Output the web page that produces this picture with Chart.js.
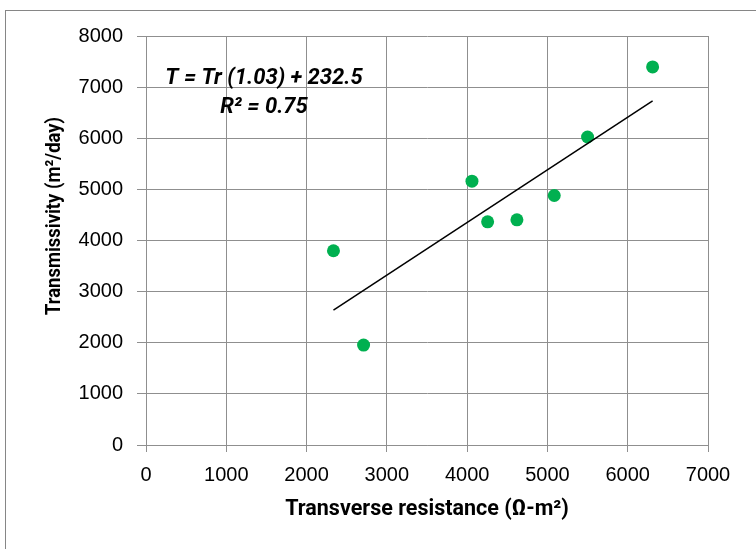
<!DOCTYPE html>
<html>
<head>
<meta charset="utf-8">
<script src="https://cdn.jsdelivr.net/npm/chart.js@4/dist/chart.umd.min.js"></script>
<style>
  html, body { margin: 0; padding: 0; background: #fff; }
  .wrap { position: relative; width: 756px; height: 549px; overflow: hidden; }
  .frame {
    position: absolute; left: 5px; top: 10px; width: 800px; height: 600px;
    border-left: 1px solid #868686; border-top: 1px solid #868686;
    pointer-events: none;
  }
  canvas { position: absolute; left: 0; top: 0; }
</style>
</head>
<body>
<div class="wrap">
  <div class="frame"></div>
  <canvas id="chart" width="756" height="549"></canvas>
</div>
<script>
// transverse resistance (ohm-m2) vs transmissivity (m2/day)
const resistance = [2335, 2710, 4060, 4255, 4620, 5085, 5500, 6310];
const transmissivity = [3800, 1955, 5160, 4365, 4405, 4880, 6025, 7395];

// linear fit T = Tr * slope + intercept
const slope = 1.03;
const intercept = 232.5;
const fitLabel = ["T = Tr (1.03) + 232.5", "R\u00b2 = 0.75"];

const xTicks = [0, 1000, 2000, 3000, 4000, 5000, 6000, 7000];
const yTicks = [0, 1000, 2000, 3000, 4000, 5000, 6000, 7000, 8000];
const yTitle = "Transmissivity (m\u00b2/day)";

const points = resistance.map((x, i) => ({ x: x, y: transmissivity[i] }));
const xMin = Math.min(...resistance);
const xMax = Math.max(...resistance);
const trend = [
  { x: xMin, y: xMin * slope + intercept },
  { x: xMax, y: xMax * slope + intercept },
];

const gridColor = "#8f8f8f";
const tickFont = { family: "Liberation Sans", size: 20 };

// equation text and the vertical axis title (sits a bit above the plot centre)
const extraText = {
  id: "extraText",
  afterDraw(chart) {
    const ctx = chart.ctx;
    ctx.save();
    ctx.fillStyle = "#000";
    ctx.font = "italic bold 22px Roboto";
    ctx.textAlign = "center";
    ctx.textBaseline = "alphabetic";
    ctx.fillText(fitLabel[0], 264, 84);
    ctx.fillText(fitLabel[1], 264, 113);

    // slightly condensed so the heavier face keeps its length
    ctx.font = "bold 20.5px Roboto";
    ctx.textBaseline = "middle";
    ctx.translate(55, 216);
    ctx.rotate(-Math.PI / 2);
    ctx.scale(0.9, 1);
    ctx.fillText(yTitle, 0, 0);
    ctx.restore();
  },
};

new Chart(document.getElementById("chart"), {
  type: "scatter",
  data: {
    datasets: [
      {
        label: "Linear fit",
        data: trend,
        showLine: true,
        borderColor: "#000",
        borderWidth: 1.5,
        pointRadius: 0,
        fill: false,
      },
      {
        label: "Observed",
        data: points,
        backgroundColor: "#00b050",
        borderWidth: 0,
        pointRadius: 6.5,
      },
    ],
  },
  options: {
    responsive: false,
    animation: false,
    layout: { padding: { left: 44, top: 36, right: 48, bottom: 26 } },
    plugins: { legend: { display: false }, tooltip: { enabled: false } },
    scales: {
      x: {
        type: "linear",
        min: 0,
        max: 7000,
        afterBuildTicks: (s) => { s.ticks = xTicks.map((v) => ({ value: v })); },
        afterFit: (s) => { s.height = 78; },
        grid: { color: gridColor, lineWidth: 1, tickLength: 7 },
        border: { color: gridColor, width: 1 },
        ticks: { color: "#000", font: tickFont, padding: 11, maxRotation: 0, callback: (v) => String(v) },
        title: {
          display: true,
          text: "Transverse resistance (\u03a9-m\u00b2)",
          color: "#000",
          font: { family: "Roboto", size: 21.5, weight: "bold" },
          padding: 0,
        },
      },
      y: {
        type: "linear",
        min: 0,
        max: 8000,
        afterBuildTicks: (s) => { s.ticks = yTicks.map((v) => ({ value: v })); },
        afterFit: (s) => { s.width = 102; },
        grid: { color: gridColor, lineWidth: 1, tickLength: 9 },
        border: { color: gridColor, width: 1 },
        ticks: { color: "#000", font: tickFont, padding: 14, callback: (v) => String(v) },
      },
    },
  },
  plugins: [extraText],
});
</script>
</body>
</html>
